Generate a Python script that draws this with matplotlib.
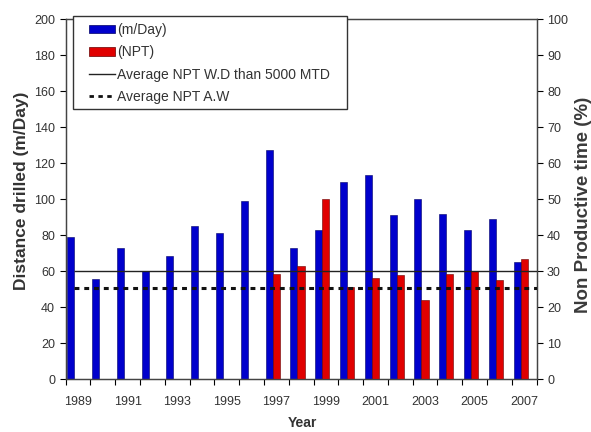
import matplotlib
matplotlib.use("Agg")
import matplotlib.pyplot as plt
import numpy as np
from matplotlib.patches import Patch, Rectangle
from matplotlib.lines import Line2D

plt.rcParams['font.family'] = ['Liberation Sans', 'DejaVu Sans']

years = list(range(1989, 2008))
rate_m_day = [79, 56, 73, 60, 68.5, 85, 81.5, 99, 127.5, 73, 83, 109.5, 113.5, 91.5, 100, 92, 83, 89, 65]
npt_years = list(range(1997, 2008))
npt_pct = [29.2, 31.5, 50, 25.7, 28.1, 29, 22, 29.2, 30.2, 27.6, 33.3]
avg_npt_wd = 30.0
avg_npt_aw = 25.5
tick_years = [1989, 1991, 1993, 1995, 1997, 1999, 2001, 2003, 2005, 2007]

blue = '#0000cc'
red = '#e00000'
tc = '#333333'

W, H = 591, 432
fig = plt.figure(figsize=(5.91, 4.32), dpi=100)
ax = fig.add_axes([0.111, 0.122, 0.797, 0.833])
ax2 = ax.twinx()

x = np.arange(len(years))
ax.bar(x + 0.07, rate_m_day, width=0.28, align='edge', color=blue, edgecolor='#000066', linewidth=0.4, zorder=2)
xr = np.array([years.index(y) for y in npt_years])
ax2.bar(xr + 0.35, npt_pct, width=0.29, align='edge', color=red, edgecolor='#660000', linewidth=0.4, zorder=2)
ax2.hlines(avg_npt_wd, 0.35, len(years), color='#222222', linewidth=1.0, zorder=3)
ax2.hlines(avg_npt_aw, 0.35, len(years), color='#111111', linewidth=2.2, linestyles=(0, (1.6, 1.6)), zorder=3)

ax.set_xlim(0, len(years))
ax.set_ylim(0, 200)
ax2.set_ylim(0, 100)
ax.set_yticks(np.arange(0, 201, 20))
ax2.set_yticks(np.arange(0, 101, 10))
ax.set_xticks(np.arange(0, len(years) + 1), minor=False)
ax.set_xticklabels([''] * (len(years) + 1))
ax.set_xticks([years.index(y) + 0.5 for y in tick_years], minor=True)
ax.set_xticklabels([str(y) for y in tick_years], minor=True)
ax.tick_params(axis='x', which='minor', length=0, pad=12, labelsize=9, labelcolor=tc)
ax.tick_params(axis='x', which='major', length=4, direction='out', width=0.8)
ax.tick_params(axis='y', length=4, direction='out', labelsize=9, labelcolor=tc, width=0.8)
ax2.tick_params(axis='y', length=4, direction='out', labelsize=9, labelcolor=tc, width=0.8)

for a in (ax, ax2):
    for s in a.spines.values():
        s.set_color('#444444')
        s.set_linewidth(0.9)

fig.text(302 / W, 1 - 423 / H, 'Year', fontsize=10, fontweight='bold', color=tc, ha='center', va='center')
fig.text(22 / W, 1 - 191 / H, 'Distance drilled (m/Day)', fontsize=12.5, fontweight='bold', color=tc,
         rotation=90, ha='center', va='center')
fig.text(583 / W, 1 - 205 / H, 'Non Productive time (%)', fontsize=13.5, fontweight='bold', color='#3a3a3a',
         rotation=90, ha='center', va='center')

handles = [
    Patch(facecolor=blue, edgecolor='#000066', linewidth=0.5),
    Patch(facecolor=red, edgecolor='#660000', linewidth=0.5),
    Line2D([], [], color='#222222', linewidth=1.0),
    Line2D([], [], color='#111111', linewidth=2.0, linestyle=(0, (1.6, 1.6))),
]
labels = ['(m/Day)', '(NPT)', 'Average NPT W.D than 5000 MTD', 'Average NPT A.W']
leg = fig.legend(handles, labels, loc='upper left', bbox_to_anchor=(89 / W, 1 - 23 / H), fontsize=10,
                 frameon=False, handlelength=1.9, handletextpad=0.15, handleheight=0.55,
                 labelspacing=0.6, borderpad=0, borderaxespad=0)
for t in leg.get_texts():
    t.set_color(tc)
fig.patches.append(Rectangle((73 / W, 1 - 109 / H), 274 / W, 93 / H, transform=fig.transFigure,
                             facecolor='white', edgecolor='#333333', linewidth=1.0, zorder=4))
leg.set_zorder(5)

fig.savefig('out.png', dpi=100)
